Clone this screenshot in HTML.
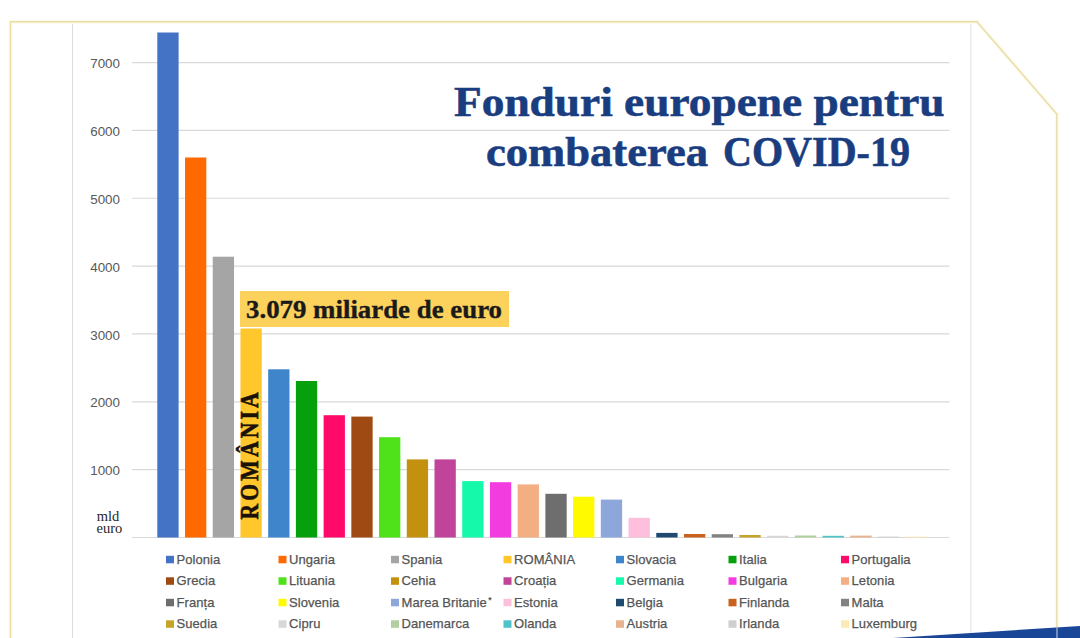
<!DOCTYPE html>
<html><head><meta charset="utf-8"><style>
html,body{margin:0;padding:0;background:#fff;width:1080px;height:638px;overflow:hidden}
svg{display:block}
</style></head><body>
<svg width="1080" height="638" viewBox="0 0 1080 638">
<polyline points="10.5,638 10.5,21.8 977,21.8 1056.8,114 1056.8,638" fill="none" stroke="#FDFBEC" stroke-width="4"/>
<polyline points="10.5,638 10.5,21.8 977,21.8 1056.8,114 1056.8,638" fill="none" stroke="#E8DDA8" stroke-width="1.4"/>
<line x1="72.5" y1="24" x2="72.5" y2="638" stroke="#DCDCDC" stroke-width="1.1"/>
<line x1="970.8" y1="24" x2="970.8" y2="638" stroke="#E4E4E4" stroke-width="1.1"/>
<line x1="132" y1="537.50" x2="949.5" y2="537.50" stroke="#D9D9D9" stroke-width="1.2"/>
<line x1="132" y1="469.65" x2="949.5" y2="469.65" stroke="#D9D9D9" stroke-width="1.2"/>
<line x1="132" y1="401.80" x2="949.5" y2="401.80" stroke="#D9D9D9" stroke-width="1.2"/>
<line x1="132" y1="333.95" x2="949.5" y2="333.95" stroke="#D9D9D9" stroke-width="1.2"/>
<line x1="132" y1="266.10" x2="949.5" y2="266.10" stroke="#D9D9D9" stroke-width="1.2"/>
<line x1="132" y1="198.25" x2="949.5" y2="198.25" stroke="#D9D9D9" stroke-width="1.2"/>
<line x1="132" y1="130.40" x2="949.5" y2="130.40" stroke="#D9D9D9" stroke-width="1.2"/>
<line x1="132" y1="62.55" x2="949.5" y2="62.55" stroke="#D9D9D9" stroke-width="1.2"/>
<text x="120" y="475.25" text-anchor="end" font-family="Liberation Sans, sans-serif" font-size="13.4" fill="#595959">1000</text>
<text x="120" y="407.40" text-anchor="end" font-family="Liberation Sans, sans-serif" font-size="13.4" fill="#595959">2000</text>
<text x="120" y="339.55" text-anchor="end" font-family="Liberation Sans, sans-serif" font-size="13.4" fill="#595959">3000</text>
<text x="120" y="271.70" text-anchor="end" font-family="Liberation Sans, sans-serif" font-size="13.4" fill="#595959">4000</text>
<text x="120" y="203.85" text-anchor="end" font-family="Liberation Sans, sans-serif" font-size="13.4" fill="#595959">5000</text>
<text x="120" y="136.00" text-anchor="end" font-family="Liberation Sans, sans-serif" font-size="13.4" fill="#595959">6000</text>
<text x="120" y="68.15" text-anchor="end" font-family="Liberation Sans, sans-serif" font-size="13.4" fill="#595959">7000</text>
<text x="108" y="521" text-anchor="middle" font-family="Liberation Serif, serif" font-size="14.5" fill="#262626">mld</text>
<text x="109.5" y="533.3" text-anchor="middle" font-family="Liberation Serif, serif" font-size="14.5" fill="#262626">euro</text>
<rect x="157.30" y="32.50" width="21.3" height="505.00" fill="#4472C4"/>
<rect x="185.02" y="157.50" width="21.3" height="380.00" fill="#FF6A00"/>
<rect x="212.74" y="256.70" width="21.3" height="280.80" fill="#A5A5A5"/>
<rect x="240.46" y="328.50" width="21.3" height="209.00" fill="#FFC72C"/>
<rect x="268.18" y="369.30" width="21.3" height="168.20" fill="#3F85CB"/>
<rect x="295.90" y="381.00" width="21.3" height="156.50" fill="#05A00C"/>
<rect x="323.62" y="415.20" width="21.3" height="122.30" fill="#FF0A6A"/>
<rect x="351.34" y="416.60" width="21.3" height="120.90" fill="#9E4A12"/>
<rect x="379.06" y="437.20" width="21.3" height="100.30" fill="#4FE21A"/>
<rect x="406.78" y="459.40" width="21.3" height="78.10" fill="#C39010"/>
<rect x="434.50" y="459.40" width="21.3" height="78.10" fill="#C0449A"/>
<rect x="462.22" y="481.10" width="21.3" height="56.40" fill="#14F9AA"/>
<rect x="489.94" y="482.20" width="21.3" height="55.30" fill="#F33CE0"/>
<rect x="517.66" y="484.40" width="21.3" height="53.10" fill="#F4AE84"/>
<rect x="545.38" y="493.80" width="21.3" height="43.70" fill="#6E6E6E"/>
<rect x="573.10" y="496.70" width="21.3" height="40.80" fill="#FFFA00"/>
<rect x="600.82" y="499.60" width="21.3" height="37.90" fill="#8EA7DA"/>
<rect x="628.54" y="517.80" width="21.3" height="19.70" fill="#FDBFDC"/>
<rect x="656.26" y="532.90" width="21.3" height="4.60" fill="#1F4A70"/>
<rect x="683.98" y="534.00" width="21.3" height="3.50" fill="#C8621E"/>
<rect x="711.70" y="534.20" width="21.3" height="3.30" fill="#828282"/>
<rect x="739.42" y="535.00" width="21.3" height="2.50" fill="#C6A42A"/>
<rect x="767.14" y="535.80" width="21.3" height="1.70" fill="#D8D8D8"/>
<rect x="794.86" y="535.50" width="21.3" height="2.00" fill="#B2CFA0"/>
<rect x="822.58" y="535.80" width="21.3" height="1.70" fill="#4FC3C8"/>
<rect x="850.30" y="535.60" width="21.3" height="1.90" fill="#E8B48F"/>
<rect x="878.02" y="536.60" width="21.3" height="0.90" fill="#CFCFCF"/>
<rect x="905.74" y="536.60" width="21.3" height="0.90" fill="#FBEBB5"/>
<rect x="240" y="291" width="269" height="36" fill="#FCD15C"/>
<text x="246" y="318.3" font-family="Liberation Serif, serif" font-weight="bold" font-size="25.3" fill="#1a1a1a" stroke="#1a1a1a" stroke-width="0.35" textLength="256" lengthAdjust="spacingAndGlyphs">3.079 miliarde de euro</text>
<text transform="translate(257.8,519.5) rotate(-90) scale(0.86,1)" x="0" y="0" font-family="Liberation Serif, serif" font-weight="bold" font-size="25.2" fill="#1a1208" stroke="#1a1208" stroke-width="0.6" textLength="148" lengthAdjust="spacing">ROMÂNIA</text>
<text x="454" y="116.2" font-family="Liberation Serif, serif" font-weight="bold" font-size="43" fill="#193D7F" stroke="#193D7F" stroke-width="0.6" textLength="490.5" lengthAdjust="spacingAndGlyphs">Fonduri europene pentru</text>
<text x="486" y="166.4" font-family="Liberation Serif, serif" font-weight="bold" font-size="43" fill="#193D7F" stroke="#193D7F" stroke-width="0.6" textLength="222" lengthAdjust="spacingAndGlyphs">combaterea</text>
<text x="723" y="166.4" font-family="Liberation Serif, serif" font-weight="bold" font-size="43" fill="#193D7F" stroke="#193D7F" stroke-width="0.6" textLength="187" lengthAdjust="spacingAndGlyphs">COVID-19</text>
<rect x="166.00" y="555.80" width="8" height="7.5" fill="#4472C4"/>
<text x="176.60" y="563.80" font-family="Liberation Sans, sans-serif" font-size="13" letter-spacing="0.05" fill="#555555" stroke="#555555" stroke-width="0.25">Polonia</text>
<rect x="278.50" y="555.80" width="8" height="7.5" fill="#FF6A00"/>
<text x="289.10" y="563.80" font-family="Liberation Sans, sans-serif" font-size="13" letter-spacing="0.05" fill="#555555" stroke="#555555" stroke-width="0.25">Ungaria</text>
<rect x="391.00" y="555.80" width="8" height="7.5" fill="#A5A5A5"/>
<text x="401.60" y="563.80" font-family="Liberation Sans, sans-serif" font-size="13" letter-spacing="0.05" fill="#555555" stroke="#555555" stroke-width="0.25">Spania</text>
<rect x="503.50" y="555.80" width="8" height="7.5" fill="#FFC72C"/>
<text x="514.10" y="563.80" font-family="Liberation Sans, sans-serif" font-size="13" letter-spacing="0.05" fill="#555555" stroke="#555555" stroke-width="0.25">ROMÂNIA</text>
<rect x="616.00" y="555.80" width="8" height="7.5" fill="#3F85CB"/>
<text x="626.60" y="563.80" font-family="Liberation Sans, sans-serif" font-size="13" letter-spacing="0.05" fill="#555555" stroke="#555555" stroke-width="0.25">Slovacia</text>
<rect x="728.50" y="555.80" width="8" height="7.5" fill="#05A00C"/>
<text x="739.10" y="563.80" font-family="Liberation Sans, sans-serif" font-size="13" letter-spacing="0.05" fill="#555555" stroke="#555555" stroke-width="0.25">Italia</text>
<rect x="841.00" y="555.80" width="8" height="7.5" fill="#FF0A6A"/>
<text x="851.60" y="563.80" font-family="Liberation Sans, sans-serif" font-size="13" letter-spacing="0.05" fill="#555555" stroke="#555555" stroke-width="0.25">Portugalia</text>
<rect x="166.00" y="577.30" width="8" height="7.5" fill="#9E4A12"/>
<text x="176.60" y="585.30" font-family="Liberation Sans, sans-serif" font-size="13" letter-spacing="0.05" fill="#555555" stroke="#555555" stroke-width="0.25">Grecia</text>
<rect x="278.50" y="577.30" width="8" height="7.5" fill="#4FE21A"/>
<text x="289.10" y="585.30" font-family="Liberation Sans, sans-serif" font-size="13" letter-spacing="0.05" fill="#555555" stroke="#555555" stroke-width="0.25">Lituania</text>
<rect x="391.00" y="577.30" width="8" height="7.5" fill="#C39010"/>
<text x="401.60" y="585.30" font-family="Liberation Sans, sans-serif" font-size="13" letter-spacing="0.05" fill="#555555" stroke="#555555" stroke-width="0.25">Cehia</text>
<rect x="503.50" y="577.30" width="8" height="7.5" fill="#C0449A"/>
<text x="514.10" y="585.30" font-family="Liberation Sans, sans-serif" font-size="13" letter-spacing="0.05" fill="#555555" stroke="#555555" stroke-width="0.25">Croația</text>
<rect x="616.00" y="577.30" width="8" height="7.5" fill="#14F9AA"/>
<text x="626.60" y="585.30" font-family="Liberation Sans, sans-serif" font-size="13" letter-spacing="0.05" fill="#555555" stroke="#555555" stroke-width="0.25">Germania</text>
<rect x="728.50" y="577.30" width="8" height="7.5" fill="#F33CE0"/>
<text x="739.10" y="585.30" font-family="Liberation Sans, sans-serif" font-size="13" letter-spacing="0.05" fill="#555555" stroke="#555555" stroke-width="0.25">Bulgaria</text>
<rect x="841.00" y="577.30" width="8" height="7.5" fill="#F4AE84"/>
<text x="851.60" y="585.30" font-family="Liberation Sans, sans-serif" font-size="13" letter-spacing="0.05" fill="#555555" stroke="#555555" stroke-width="0.25">Letonia</text>
<rect x="166.00" y="598.80" width="8" height="7.5" fill="#6E6E6E"/>
<text x="176.60" y="606.80" font-family="Liberation Sans, sans-serif" font-size="13" letter-spacing="0.05" fill="#555555" stroke="#555555" stroke-width="0.25">Franța</text>
<rect x="278.50" y="598.80" width="8" height="7.5" fill="#FFFA00"/>
<text x="289.10" y="606.80" font-family="Liberation Sans, sans-serif" font-size="13" letter-spacing="0.05" fill="#555555" stroke="#555555" stroke-width="0.25">Slovenia</text>
<rect x="391.00" y="598.80" width="8" height="7.5" fill="#8EA7DA"/>
<text x="401.60" y="606.80" font-family="Liberation Sans, sans-serif" font-size="13" letter-spacing="0.05" fill="#555555" stroke="#555555" stroke-width="0.25">Marea Britanie</text>
<rect x="503.50" y="598.80" width="8" height="7.5" fill="#FDBFDC"/>
<text x="514.10" y="606.80" font-family="Liberation Sans, sans-serif" font-size="13" letter-spacing="0.05" fill="#555555" stroke="#555555" stroke-width="0.25">Estonia</text>
<rect x="616.00" y="598.80" width="8" height="7.5" fill="#1F4A70"/>
<text x="626.60" y="606.80" font-family="Liberation Sans, sans-serif" font-size="13" letter-spacing="0.05" fill="#555555" stroke="#555555" stroke-width="0.25">Belgia</text>
<rect x="728.50" y="598.80" width="8" height="7.5" fill="#C8621E"/>
<text x="739.10" y="606.80" font-family="Liberation Sans, sans-serif" font-size="13" letter-spacing="0.05" fill="#555555" stroke="#555555" stroke-width="0.25">Finlanda</text>
<rect x="841.00" y="598.80" width="8" height="7.5" fill="#828282"/>
<text x="851.60" y="606.80" font-family="Liberation Sans, sans-serif" font-size="13" letter-spacing="0.05" fill="#555555" stroke="#555555" stroke-width="0.25">Malta</text>
<rect x="166.00" y="620.30" width="8" height="7.5" fill="#C6A42A"/>
<text x="176.60" y="628.30" font-family="Liberation Sans, sans-serif" font-size="13" letter-spacing="0.05" fill="#555555" stroke="#555555" stroke-width="0.25">Suedia</text>
<rect x="278.50" y="620.30" width="8" height="7.5" fill="#D8D8D8"/>
<text x="289.10" y="628.30" font-family="Liberation Sans, sans-serif" font-size="13" letter-spacing="0.05" fill="#555555" stroke="#555555" stroke-width="0.25">Cipru</text>
<rect x="391.00" y="620.30" width="8" height="7.5" fill="#B2CFA0"/>
<text x="401.60" y="628.30" font-family="Liberation Sans, sans-serif" font-size="13" letter-spacing="0.05" fill="#555555" stroke="#555555" stroke-width="0.25">Danemarca</text>
<rect x="503.50" y="620.30" width="8" height="7.5" fill="#4FC3C8"/>
<text x="514.10" y="628.30" font-family="Liberation Sans, sans-serif" font-size="13" letter-spacing="0.05" fill="#555555" stroke="#555555" stroke-width="0.25">Olanda</text>
<rect x="616.00" y="620.30" width="8" height="7.5" fill="#E8B48F"/>
<text x="626.60" y="628.30" font-family="Liberation Sans, sans-serif" font-size="13" letter-spacing="0.05" fill="#555555" stroke="#555555" stroke-width="0.25">Austria</text>
<rect x="728.50" y="620.30" width="8" height="7.5" fill="#CFCFCF"/>
<text x="739.10" y="628.30" font-family="Liberation Sans, sans-serif" font-size="13" letter-spacing="0.05" fill="#555555" stroke="#555555" stroke-width="0.25">Irlanda</text>
<rect x="841.00" y="620.30" width="8" height="7.5" fill="#FBEBB5"/>
<text x="851.60" y="628.30" font-family="Liberation Sans, sans-serif" font-size="13" letter-spacing="0.05" fill="#555555" stroke="#555555" stroke-width="0.25">Luxemburg</text>
<text x="488.3" y="603.3" font-family="Liberation Sans, sans-serif" font-size="8.5" font-weight="bold" fill="#555555">*</text>
<polygon points="893,638 1080,625.9 1080,638" fill="#1A4698"/>
<line x1="1057" y1="627" x2="1057" y2="638" stroke="#9AAED0" stroke-width="1.4"/>
</svg>
</body></html>
